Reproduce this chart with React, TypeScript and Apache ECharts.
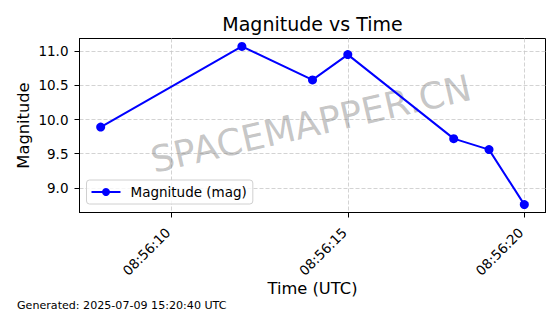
import React, { useEffect, useRef } from 'react';
import * as echarts from 'echarts';

const times = ['08:56:08', '08:56:12', '08:56:14', '08:56:15', '08:56:18', '08:56:19', '08:56:20'];
const magnitudes = [9.89, 11.07, 10.58, 10.95, 9.72, 9.56, 8.755];
const xTickLabels = ['08:56:10', '08:56:15', '08:56:20'];
const yTicks = [9.0, 9.5, 10.0, 10.5, 11.0];
const seriesName = 'Magnitude (mag)';
const titleText = 'Magnitude vs Time';
const xAxisTitle = 'Time (UTC)';
const yAxisTitle = 'Magnitude';
const footerText = 'Generated: 2025-07-09 15:20:40 UTC';
const watermarkText = 'SPACEMAPPER.CN';

const FONT = '"DejaVu Sans", sans-serif';

const toSec = (t: string) => {
  const [h, m, s] = t.split(':').map(Number);
  return h * 3600 + m * 60 + s;
};
const pad = (n: number) => String(n).padStart(2, '0');
const fmtSec = (v: number) => {
  const r = Math.round(v);
  return `${pad(Math.floor(r / 3600))}:${pad(Math.floor((r % 3600) / 60))}:${pad(r % 60)}`;
};

export default function App() {
  const ref = useRef<HTMLDivElement>(null);
  useEffect(() => {
    if (!ref.current) return;
    const chart = echarts.init(ref.current, undefined, { renderer: 'svg' });
    const xs = times.map(toSec);
    const xMin0 = Math.min(...xs), xMax0 = Math.max(...xs);
    const xm = (xMax0 - xMin0) * 0.05;
    const yMin0 = Math.min(...magnitudes), yMax0 = Math.max(...magnitudes);
    const ym = (yMax0 - yMin0) * 0.05;
    const xTickVals = xTickLabels.map(toSec);
    const data = xs.map((x, i) => [x, magnitudes[i]]);

    chart.setOption({
      animation: false,
      backgroundColor: '#ffffff',
      textStyle: { fontFamily: FONT },
      title: {
        text: titleText,
        left: 312.5,
        textAlign: 'center',
        top: 14,
        padding: 0,
        textStyle: { fontFamily: FONT, fontSize: 19, fontWeight: 'normal', color: '#000' },
      },
      grid: {
        left: 79.5,
        top: 38.5,
        width: 466,
        height: 174,
        show: true,
        borderColor: '#000',
        borderWidth: 1,
        backgroundColor: 'transparent',
        containLabel: false,
      },
      legend: {
        left: 86.5,
        top: 180,
        orient: 'vertical',
        padding: [5, 6, 5, 4],
        itemWidth: 29,
        itemHeight: 10,
        borderColor: '#d0d0d0',
        borderWidth: 1,
        borderRadius: 3,
        backgroundColor: 'rgba(255,255,255,0.8)',
        textStyle: { fontFamily: FONT, fontSize: 13.5, color: '#000', padding: [0, 0, 0, 5] },
        data: [seriesName],
      },
      xAxis: {
        type: 'value',
        min: xMin0 - xm,
        max: xMax0 + xm,
        name: xAxisTitle,
        nameLocation: 'middle',
        nameGap: 68,
        nameMoveOverlap: false,
        nameTextStyle: { fontFamily: FONT, fontSize: 16.3, color: '#000' },
        axisLine: { show: true, lineStyle: { color: '#000', width: 1 } },
        axisTick: { show: true, customValues: xTickVals, length: 5, lineStyle: { color: '#000', width: 1 } },
        axisLabel: {
          customValues: xTickVals,
          rotate: 45,
          margin: 14,
          padding: [0, 5, 0, 0],
          fontFamily: FONT,
          fontSize: 13.5,
          color: '#000',
          formatter: (v: number) => fmtSec(v),
        },
        splitLine: { show: true, customValues: xTickVals, lineStyle: { color: '#c8c8c8', type: [4, 2], width: 0.8 } },
      },
      yAxis: {
        type: 'value',
        min: yMin0 - ym,
        max: yMax0 + ym,
        name: yAxisTitle,
        nameLocation: 'middle',
        nameRotate: 90,
        nameGap: 48.5,
        nameMoveOverlap: false,
        nameTextStyle: { fontFamily: FONT, fontSize: 16.3, color: '#000' },
        axisLine: { show: true, lineStyle: { color: '#000', width: 1 } },
        axisTick: { show: true, customValues: yTicks, length: 5, lineStyle: { color: '#000', width: 1 } },
        axisLabel: {
          customValues: yTicks,
          margin: 11,
          fontFamily: FONT,
          fontSize: 13.5,
          color: '#000',
          formatter: (v: number) => v.toFixed(1),
        },
        splitLine: { show: true, customValues: yTicks, lineStyle: { color: '#c8c8c8', type: [4, 2], width: 0.8 } },
      },
      graphic: [
        {
          type: 'text',
          x: 311,
          y: 124,
          rotation: (13 * Math.PI) / 180,
          z: 1,
          silent: true,
          style: {
            text: watermarkText,
            fontFamily: FONT,
            fontSize: 36.5,
            fill: 'rgba(128,128,128,0.45)',
            align: 'center',
            verticalAlign: 'middle',
          },
        },
        {
          type: 'text',
          x: 17,
          y: 305,
          style: {
            text: footerText,
            fontFamily: FONT,
            fontSize: 11.1,
            fill: '#000',
            align: 'left',
            verticalAlign: 'middle',
          },
        },
      ],
      series: [
        {
          name: seriesName,
          type: 'line',
          data,
          symbol: 'circle',
          symbolSize: 9,
          color: '#0000ff',
          itemStyle: { color: '#0000ff' },
          lineStyle: { color: '#0000ff', width: 2 },
          z: 3,
        },
      ],
    });
    return () => chart.dispose();
  }, []);
  return <div ref={ref} style={{ position: 'fixed', left: 0, top: 0, width: 560, height: 314 }} />;
}
